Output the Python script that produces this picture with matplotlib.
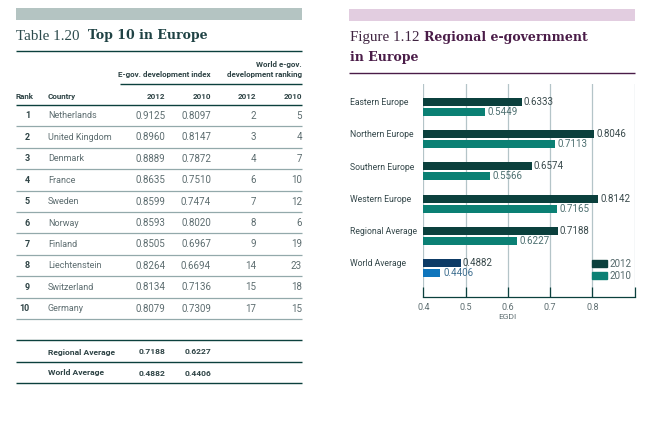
import matplotlib
matplotlib.use('Agg')
import matplotlib.pyplot as plt
from matplotlib.patches import Patch

# table data
ranks = [1, 2, 3, 4, 5, 6, 7, 8, 9, 10]
countries = ['Netherlands', 'United Kingdom', 'Denmark', 'France', 'Sweden',
             'Norway', 'Finland', 'Liechtenstein', 'Switzerland', 'Germany']
egov_2012 = ['0.9125', '0.8960', '0.8889', '0.8635', '0.8599',
             '0.8593', '0.8505', '0.8264', '0.8134', '0.8079']
egov_2010 = ['0.8097', '0.8147', '0.7872', '0.7510', '0.7474',
             '0.8020', '0.6967', '0.6694', '0.7136', '0.7309']
rank_2012 = [2, 3, 4, 6, 7, 8, 9, 14, 15, 17]
rank_2010 = [5, 4, 7, 10, 12, 6, 19, 23, 18, 15]
avg_names = ['Regional Average', 'World Average']
avg_2012 = ['0.7188', '0.4882']
avg_2010 = ['0.6227', '0.4406']

# chart data
regions = ['Eastern Europe', 'Northern Europe', 'Southern Europe',
           'Western Europe', 'Regional Average', 'World Average']
egdi_2012 = [0.6333, 0.8046, 0.6574, 0.8142, 0.7188, 0.4882]
egdi_2010 = [0.5449, 0.7113, 0.5566, 0.7165, 0.6227, 0.4406]
x_ticks = [0.4, 0.5, 0.6, 0.7, 0.8, 0.9]
x_labels = ['0.4', '0.5', '0.6', '0.7', '0.8', '']

W, H = 656, 423
SERIF = ['Liberation Serif', 'DejaVu Serif']
SLAB = ['DejaVu Serif']
plt.rcParams['font.family'] = ['Roboto', 'DejaVu Sans']

DARK = '#0b403d'
TEAL = '#0b8074'
TXT = '#2f4446'
GREY = '#5d6d70'
RULE = '#93a9ab'

fig = plt.figure(figsize=(W / 100, H / 100), dpi=100, facecolor='white')

# background axes in pixels, for the table and the headings
bg = fig.add_axes([0, 0, 1, 1])
bg.set_xlim(0, W)
bg.set_ylim(H, 0)
bg.axis('off')


def hline(x0, x1, y, color=DARK, lw=1.0):
    bg.plot([x0, x1], [y, y], color=color, lw=lw, solid_capstyle='butt')


# left heading
bg.fill_between([16, 302], 8, 20, color='#b4c4c2', lw=0)
bg.text(16, 36, 'Table 1.20', family=SERIF, fontsize=10.8, color='#2c4a4c', va='center')
bg.text(88, 36, 'Top 10 in Europe', family=SLAB, fontsize=9, weight='bold',
        color='#1f4244', va='center')
hline(16, 302, 51)

# table head
bg.text(302, 64, 'World e-gov.', ha='right', va='center', fontsize=5.8, weight='bold', color=TXT)
bg.text(302, 74.5, 'development ranking', ha='right', va='center', fontsize=5.8, weight='bold', color=TXT)
bg.text(211, 74.5, 'E-gov. development index', ha='right', va='center', fontsize=5.8, weight='bold', color=TXT)
hline(120, 302, 84)
bg.text(16, 96.5, 'Rank', va='center', fontsize=5.8, weight='bold', color=TXT)
bg.text(48, 96.5, 'Country', va='center', fontsize=5.8, weight='bold', color=TXT)
col_right = [165.5, 211, 256, 302]
for x, lab in zip(col_right, ['2012', '2010', '2012', '2010']):
    bg.text(x, 96.5, lab, ha='right', va='center', fontsize=5.8, weight='bold', color=TXT)
hline(16, 302, 105)

# table rows
row_h = 21.4
for i in range(len(ranks)):
    y = 116 + i * row_h
    bg.text(30, y, str(ranks[i]), ha='right', va='center', fontsize=6.5, weight='bold', color=TXT)
    bg.text(48, y, countries[i], va='center', fontsize=6.5, color=GREY)
    bg.text(165.5, y, egov_2012[i], ha='right', va='center', fontsize=7, color=GREY)
    bg.text(211, y, egov_2010[i], ha='right', va='center', fontsize=7, color=GREY)
    bg.text(256, y, str(rank_2012[i]), ha='right', va='center', fontsize=7, color=GREY)
    bg.text(302, y, str(rank_2010[i]), ha='right', va='center', fontsize=7, color=GREY)
    hline(16, 302, 105 + (i + 1) * row_h, color=RULE, lw=0.9)

# averages
hline(16, 302, 340.5)
for i in range(len(avg_names)):
    y = 352 + i * 21
    bg.text(48, y, avg_names[i], va='center', fontsize=6.1, weight='bold', color=TXT)
    bg.text(165.5, y, avg_2012[i], ha='right', va='center', fontsize=6.1, weight='bold', color=TXT)
    bg.text(211, y, avg_2010[i], ha='right', va='center', fontsize=6.1, weight='bold', color=TXT)
    hline(16, 302, 362 + i * 21)

# right heading
bg.fill_between([349, 635], 9, 21, color='#e2cde0', lw=0)
bg.text(349.5, 37, 'Figure 1.12', family=SERIF, fontsize=10.8, color='#3f2340', va='center')
bg.text(424, 37, 'Regional e-government', family=SLAB, fontsize=9, weight='bold',
        color='#4a1c48', va='center')
bg.text(349.5, 58, 'in Europe', family=SLAB, fontsize=9, weight='bold',
        color='#4a1c48', va='center')
hline(349, 635, 73, color='#4a1c48')

# chart
x0, x1, y_top, y_bot = 423.3, 634.7, 84, 297
ax = fig.add_axes([x0 / W, 1 - y_bot / H, (x1 - x0) / W, (y_bot - y_top) / H])
ax.patch.set_alpha(0)
spacing = 32.2
ax.set_xlim(0.4, 0.9)
ax.set_ylim((y_bot - 107) / spacing, (y_top - 107) / spacing)

bar_h = 8 / spacing
off = 5 / spacing
cols_2012 = [DARK] * 5 + ['#0d3b66']
cols_2010 = [TEAL] * 5 + ['#0f75bc']
lab_2010 = ['#4d6f70'] * 5 + ['#3f6f90']
for i in range(len(regions)):
    ax.barh(i - off, egdi_2012[i] - 0.4, left=0.4, height=bar_h, color=cols_2012[i], zorder=3)
    ax.barh(i + off, egdi_2010[i] - 0.4, left=0.4, height=bar_h, color=cols_2010[i], zorder=3)
    ax.text(egdi_2012[i] + 0.004, i - off, '%.4f' % egdi_2012[i], va='center',
            fontsize=7, color='#3a4a4c', zorder=4)
    ax.text(egdi_2010[i] + 0.006, i + off, '%.4f' % egdi_2010[i], va='center',
            fontsize=7, color=lab_2010[i], zorder=4)
    ax.text(-0.349, i - off + 0.02, regions[i], transform=ax.get_yaxis_transform(), va='center',
            fontsize=6.2, color='#34474a', clip_on=False)

ax.set_xticks(x_ticks)
ax.set_xticklabels(x_labels, fontsize=6.5, color=GREY)
ax.set_yticks([])
ax.grid(axis='x', color='#b4c4c8', lw=0.9, zorder=0)
ax.set_axisbelow(True)
ax.tick_params(axis='x', direction='in', length=7, width=0.9, color=DARK, pad=4)
for s in ['top', 'left', 'right']:
    ax.spines[s].set_visible(False)
ax.spines['bottom'].set_color(DARK)
ax.spines['bottom'].set_linewidth(0.9)
ax.set_xlabel('EGDI', fontsize=6, color=GREY)
ax.xaxis.set_label_coords((0.6 - 0.4) / 0.5, -0.078)

leg = ax.legend(handles=[Patch(color=DARK, label='2012'), Patch(color=TEAL, label='2010')],
                loc='upper left', bbox_to_anchor=(0.8, 0.178), frameon=False,
                fontsize=7, handlelength=1.55, handleheight=0.8, handletextpad=0.25,
                labelspacing=0.2, borderpad=0, borderaxespad=0, labelcolor='#55696b')
leg.set_zorder(5)

fig.savefig('out.png', dpi=100)
